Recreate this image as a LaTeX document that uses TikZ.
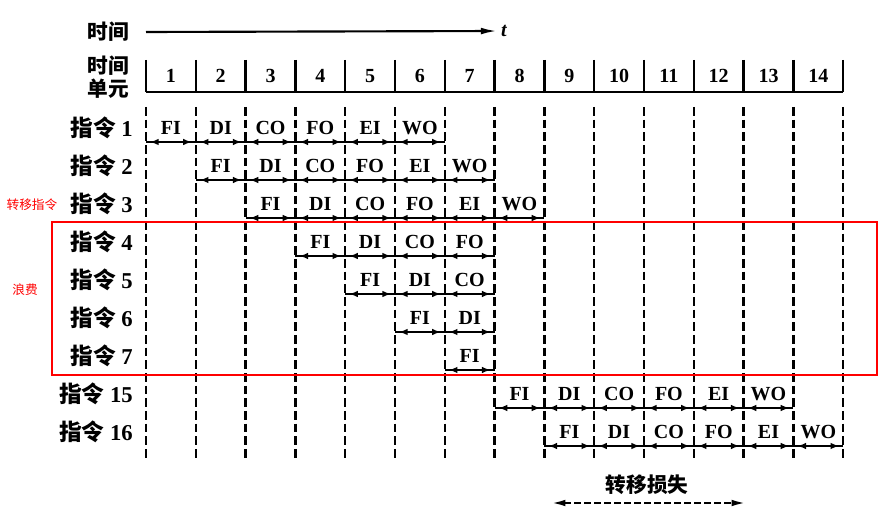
\documentclass[tikz,border=0pt]{standalone}
\usepackage{fontspec}
\setmainfont{Liberation Serif}
\newfontfamily\cjk{Noto Sans CJK SC}
\usetikzlibrary{arrows.meta}

\begin{document}
\begin{tikzpicture}[x=0.75pt, y=-0.75pt,
	grid/.style     = {black, line width=1.8pt, dash pattern=on 6.5pt off 3pt},
	stage/.style    = {font=\fontsize{15}{15}\selectfont\bfseries, inner sep=0pt},
	rowlabel/.style = {anchor=east, font=\fontsize{17}{17}\selectfont\bfseries, inner sep=0pt},
	cjklabel/.style = {font=\cjk\bfseries\fontsize{15.5}{17}\selectfont, inner sep=0pt},
	span/.style     = {black, line width=1.4pt, {Latex[length=6.5pt,width=5pt]}-{Latex[length=6.5pt,width=5pt]}, shorten <=3pt, shorten >=3pt},
	rowline/.style  = {black, line width=1.4pt},
	note/.style     = {red, font=\cjk\fontsize{9.5}{9.5}\selectfont, inner sep=0pt},]

	\useasboundingbox (0,0) rectangle (890,530);

	%% TIME AXIS
	\node[cjklabel] (timelabel) at (108,32) {时间};
	\coordinate (t0) at (146,32);
	\node[font=\fontsize{15}{15}\selectfont\bfseries\itshape, inner sep=0pt] (tend) at (504,31) {t};
	\draw[black, line width=1.6pt, -{Latex[length=12pt,width=5pt]}, shorten >=3pt] (t0) -- (tend.west);

	%% TIME UNITS
	\node[cjklabel, align=center] (unitlabel) at (108,77) {时间\\单元};
	\foreach \i in {0,...,14} {
		\coordinate (h\i) at ({146+49.8*\i},60);
		\coordinate (hb\i) at ({146+49.8*\i},92);
		\draw[black, line width=1.8pt] (h\i) -- (hb\i);
	}
	\draw[black, line width=1.8pt] (hb0) -- (hb14);
	\foreach \i in {1,...,14}
		\node[stage] (num\i) at ({146+49.8*\i-24.9},76) {\i};

	%% DASHED GRID
	\foreach \i in {0,...,14} {
		\coordinate (g\i) at ({146+49.8*\i},107);
		\coordinate (gb\i) at ({146+49.8*\i},458);
		\draw[grid] (g\i) -- (gb\i);
	}

	%% INSTRUCTIONS
	\foreach \lab/\row/\s/\c in {1/0/1/6, 2/1/2/6, 3/2/3/6, 4/3/4/4, 5/4/5/3, 6/5/6/2, 7/6/7/1, 15/7/8/6, 16/8/9/6} {
		\pgfmathsetmacro{\y}{128+38*\row}
		\node[rowlabel] (ins\lab) at (133,\y) {{\cjk 指令}\ \lab};
		\foreach \st [count=\k] in {FI,DI,CO,FO,EI,WO} {
			\ifnum\k>\c\relax\else
				\pgfmathsetmacro{\x}{146+49.8*(\s+\k-2)}
				\node[stage] (c\lab-\k) at (\x+24.9,\y) {\st};
				\coordinate (l\lab-\k) at (\x,\y+14);
				\coordinate (r\lab-\k) at (\x+49.8,\y+14);
			\fi
		}
		\draw[rowline] (l\lab-1) -- (r\lab-\c);
		\foreach \k in {1,...,\c}
			\draw[span] (l\lab-\k) -- (r\lab-\k);
	}

	%% WASTED SLOTS
	\draw[red, line width=1.6pt] (52,222) rectangle (877,375);
	\node[note] (jump) at (32,205) {转移指令};
	\node[note] (waste) at (25,290) {浪费};

	%% BRANCH PENALTY
	\node[cjklabel] (loss) at (647,485) {转移损失};
	\coordinate (lossL) at (552,503);
	\coordinate (lossR) at (745,503);
	\draw[black, line width=1.5pt, dash pattern=on 5pt off 2.5pt, {Latex[length=10pt,width=5pt]}-{Latex[length=10pt,width=5pt]}] (lossL) -- (lossR);
\end{tikzpicture}
\end{document}
